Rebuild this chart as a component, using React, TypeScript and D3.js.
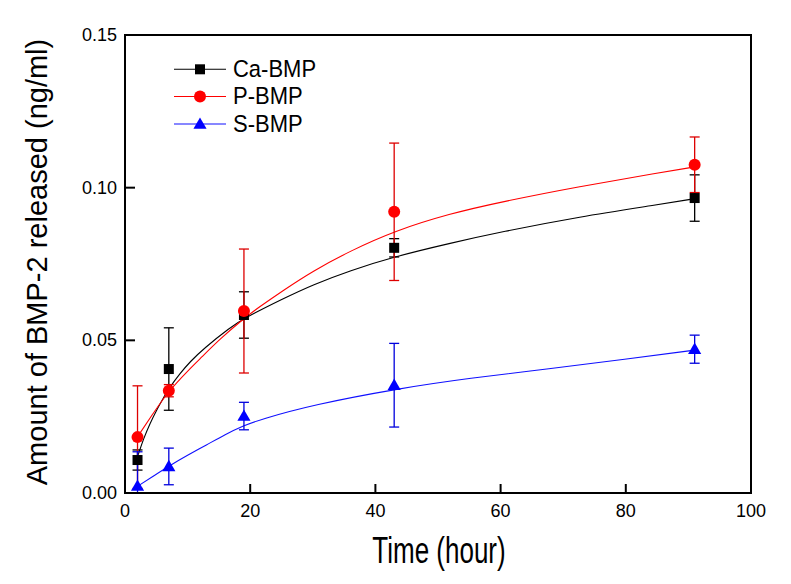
import React from "react";
import * as d3 from "d3";

const timeHours = [2, 7, 19, 43, 91];
const caBmp = [0.0108, 0.0406, 0.0583, 0.0803, 0.0966];
const caErr = [0.0033, 0.0135, 0.0076, 0.003, 0.0076];
const pBmp = [0.0183, 0.0335, 0.0596, 0.0921, 0.1075];
const pErr = [0.0168, 0.002, 0.0203, 0.0225, 0.0091];
const sBmp = [0.0023, 0.0087, 0.0252, 0.0353, 0.0471];
const sErr = [0.0112, 0.006, 0.0045, 0.0137, 0.0046];

const caFitX = [2.1, 3, 4.0, 5, 6.1, 7, 8.8, 10.4, 12.5, 16.8, 19, 25.3, 30, 35.9, 43, 51.9, 60, 72.6, 85.4, 91];
const caFitY = [0.0125, 0.018, 0.0228, 0.027, 0.031, 0.0342, 0.0392, 0.043, 0.0472, 0.0542, 0.0572, 0.0637, 0.0682, 0.0728, 0.0774, 0.0818, 0.0855, 0.0905, 0.0945, 0.0964];
const pFitX = [2, 4.5, 7, 10.4, 12, 15.2, 19, 21.3, 25.3, 30, 35.9, 43, 51.9, 60, 72.6, 85.4, 91];
const pFitY = [0.0184, 0.0261, 0.0335, 0.0408, 0.044, 0.0505, 0.0572, 0.0607, 0.0664, 0.0727, 0.0792, 0.0858, 0.0915, 0.0953, 0.1004, 0.1049, 0.1068];
const sFitX = [2, 4.5, 7, 10, 13, 16, 19, 21.5, 30, 43.9, 55, 67.8, 80, 91];
const sFitY = [0.0022, 0.0055, 0.0088, 0.0124, 0.0157, 0.0192, 0.0221, 0.024, 0.0289, 0.0343, 0.0376, 0.0407, 0.0438, 0.0468];

const xTicks = [0, 20, 40, 60, 80, 100];
const yTicks = [0, 0.05, 0.1, 0.15];
const seriesNames = ["Ca-BMP", "P-BMP", "S-BMP"];

const FONT = "Arial, 'Liberation Sans', sans-serif";

export default function App() {
  const x = d3.scaleLinear().domain([0, 100]).range([125, 751]);
  const y = d3.scaleLinear().domain([0, 0.15]).range([493, 35]);
  const line = (xs: number[], ys: number[]) =>
    d3
      .line<number>()
      .x((_, i) => x(xs[i]))
      .y((d) => y(d))
      .curve(d3.curveBasis)(ys) || "";

  const series = [
    { name: seriesNames[0], vals: caBmp, err: caErr, fx: caFitX, fy: caFitY, color: "#000000", errColor: "#000000", lineColor: "#000000", shape: "square" },
    { name: seriesNames[1], vals: pBmp, err: pErr, fx: pFitX, fy: pFitY, color: "#ff0000", errColor: "#dd0000", lineColor: "#ff0000", shape: "circle" },
    { name: seriesNames[2], vals: sBmp, err: sErr, fx: sFitX, fy: sFitY, color: "#0000ff", errColor: "#0000dd", lineColor: "#1010ff", shape: "triangle" },
  ];

  const marker = (shape: string, cx: number, cy: number, color: string, key: string) => {
    if (shape === "square") return <rect key={key} x={cx - 5} y={cy - 5} width={10} height={10} fill={color} />;
    if (shape === "circle") return <circle key={key} cx={cx} cy={cy} r={6} fill={color} />;
    const sym = d3.symbol(d3.symbolTriangle, 75)() || "";
    return <path key={key} d={sym} transform={`translate(${cx},${cy + 1})`} fill={color} />;
  };

  const [x0, x1] = x.range();
  const [yb, yt] = y.range();

  return (
    <svg width={791} height={584} style={{ position: "absolute", left: 0, top: 0, background: "#fff" }} fontFamily={FONT}>
      <defs>
        <clipPath id="plotClip">
          <rect x={x0} y={yt} width={x1 - x0} height={yb - yt} />
        </clipPath>
      </defs>
      <g clipPath="url(#plotClip)">
        {/* fit curves */}
        {series.map((s) => (
          <path key={s.name + "fit"} d={line(s.fx, s.fy)} fill="none" stroke={s.lineColor} strokeWidth={1.1} />
        ))}
        {/* error bars */}
        {series.map((s) =>
          s.vals.map((v, i) => {
            const cx = x(timeHours[i]);
            const top = y(v + s.err[i]);
            const bot = y(v - s.err[i]);
            return (
              <g key={s.name + "e" + i} stroke={s.errColor} strokeWidth={1.3}>
                <line x1={cx} x2={cx} y1={top} y2={bot} />
                <line x1={cx - 5} x2={cx + 5} y1={top} y2={top} />
                <line x1={cx - 5} x2={cx + 5} y1={bot} y2={bot} />
              </g>
            );
          })
        )}
        {/* markers */}
        {series.map((s) => s.vals.map((v, i) => marker(s.shape, x(timeHours[i]), y(v), s.color, s.name + "m" + i)))}
      </g>

      {/* frame */}
      <rect x={x0} y={yt} width={x1 - x0} height={yb - yt} fill="none" stroke="#000" strokeWidth={2} />
      {xTicks.map((t) => (
        <g key={"xt" + t}>
          <line x1={x(t)} x2={x(t)} y1={yb} y2={yb - 9} stroke="#000" strokeWidth={2} />
          <text x={x(t)} y={yb + 24} textAnchor="middle" fontSize={18} fill="#000">{t}</text>
        </g>
      ))}
      {yTicks.map((t) => (
        <g key={"yt" + t}>
          <line x1={x0} x2={x0 + 10} y1={y(t)} y2={y(t)} stroke="#000" strokeWidth={2} />
          <text x={x0 - 8} y={y(t) + 6} textAnchor="end" fontSize={18} fill="#000">{d3.format(".2f")(t)}</text>
        </g>
      ))}

      {/* axis titles */}
      <text transform={`translate(439,563) scale(1,1.4)`} textAnchor="middle" fontSize={26} fill="#000">Time (hour)</text>
      <text transform={`translate(47,262) rotate(-90)`} textAnchor="middle" fontSize={29} fill="#000">Amount of BMP-2 released (ng/ml)</text>

      {/* legend */}
      {series.map((s, i) => {
        const ly = [69.3, 96.5, 124][i];
        return (
          <g key={s.name + "leg"}>
            <line x1={174} x2={226} y1={ly} y2={ly} stroke={s.lineColor} strokeWidth={1.1} />
            {marker(s.shape, 200, ly, s.color, s.name + "lm")}
            <text transform={`translate(233,${ly + 7.5}) scale(1,1.08)`} fontSize={22} fill="#000">{s.name}</text>
          </g>
        );
      })}
    </svg>
  );
}
